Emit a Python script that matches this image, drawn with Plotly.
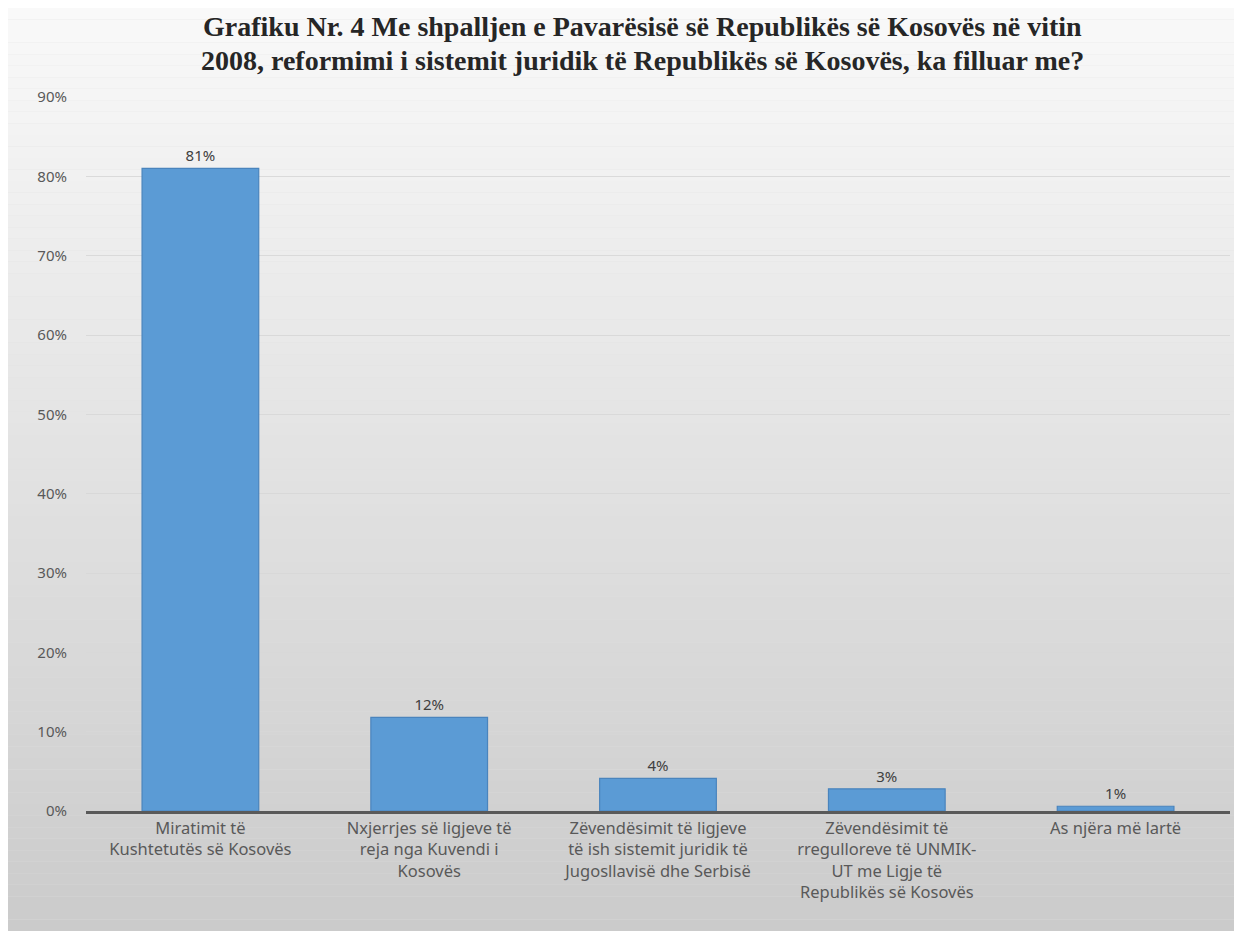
import plotly.graph_objects as go

categories = [
    "Miratimit të<br>Kushtetutës së Kosovës",
    "Nxjerrjes së ligjeve të<br>reja nga Kuvendi i<br>Kosovës",
    "Zëvendësimit të ligjeve<br>të ish sistemit juridik të<br>Jugosllavisë dhe Serbisë",
    "Zëvendësimit të<br>rregulloreve të UNMIK-<br>UT me Ligje të<br>Republikës së Kosovës",
    "As njëra më lartë",
]
values = [0.81, 0.118, 0.041, 0.028, 0.006]
value_labels = ["81%", "12%", "4%", "3%", "1%"]
y_ticks = [0, 0.1, 0.2, 0.3, 0.4, 0.5, 0.6, 0.7, 0.8, 0.9]
y_tick_labels = ["0%", "10%", "20%", "30%", "40%", "50%", "60%", "70%", "80%", "90%"]

title_lines = [
    "Grafiku Nr. 4 Me shpalljen e Pavarësisë së Republikës së Kosovës në vitin",
    "2008, reformimi i sistemit juridik të Republikës së Kosovës, ka filluar me?",
]

W, H = 1226, 923
ml, mr, mt, mb = 78, 4, 89, 120
pw, ph = W - ml - mr, H - mt - mb

fig = go.Figure()
fig.add_trace(go.Bar(
    x=categories, y=values,
    marker=dict(color="#5B9BD5", line=dict(color="#4A84BD", width=1.2)),
    text=value_labels, textposition="outside",
    textfont=dict(family="Noto Sans", size=15, color="#404040"),
    cliponaxis=False,
    width=0.51,
))

# vertical gradient background built from thin bands
shapes = []
n = 80
for i in range(n):
    y0px = H * i / n
    y1px = H * (i + 1) / n
    c = int(round(249 - 46 * ((y0px + y1px) / 2) / H))
    shapes.append(dict(
        type="rect", xref="paper", yref="paper", layer="below",
        x0=-ml / pw, x1=1 + mr / pw,
        y0=(H - mb - y1px) / ph, y1=(H - mb - y0px) / ph,
        fillcolor=f"rgb({c},{c},{c})", line=dict(width=0),
    ))

annotations = []
for line, ypx in zip(title_lines, [19, 53]):
    annotations.append(dict(
        text=f"<b>{line}</b>", xref="paper", yref="paper",
        x=(634 - ml) / pw, y=(H - mb - ypx) / ph,
        xanchor="center", yanchor="middle", showarrow=False,
        font=dict(family="Liberation Serif", size=28, color="#262626"),
    ))

fig.update_layout(
    width=W, height=H,
    margin=dict(l=ml, r=mr, t=mt, b=mb, autoexpand=False),
    paper_bgcolor="#e0e0e0",
    plot_bgcolor="rgba(0,0,0,0)",
    shapes=shapes,
    annotations=annotations,
    showlegend=False,
    bargap=0.49,
)
fig.update_yaxes(
    range=[0, 0.9], tickvals=y_ticks, ticktext=y_tick_labels,
    tickfont=dict(family="Noto Sans", size=15, color="#595959"),
    showgrid=True, gridcolor="rgba(215,215,215,0.9)", gridwidth=1,
    zeroline=False, showline=False, ticklabelstandoff=18, automargin=False,
)
fig.update_xaxes(
    tickfont=dict(family="Noto Sans", size=16.5, color="#595959"),
    showline=True, linecolor="#595959", linewidth=3,
    ticks="", showgrid=False, automargin=False,
)
fig.write_html("out.html")
